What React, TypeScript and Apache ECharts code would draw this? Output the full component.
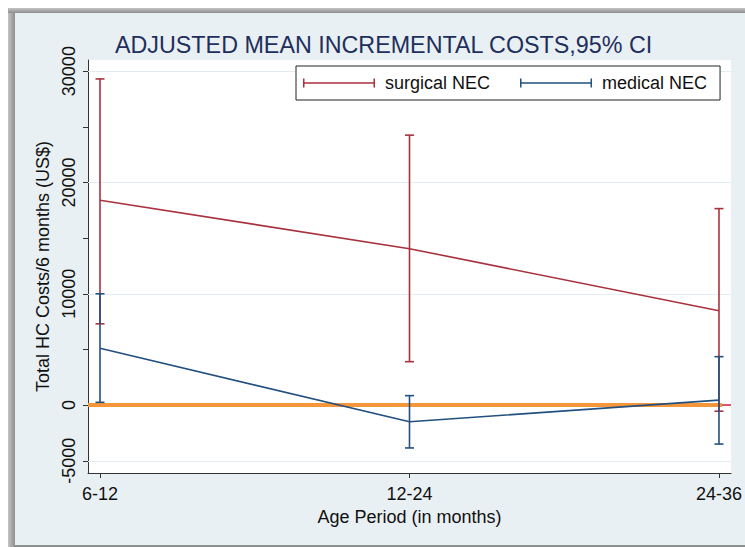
import React, { useEffect, useRef } from "react";
import * as echarts from "echarts";

const categories = ["6-12", "12-24", "24-36"];
const categoryPositions = [0, 1, 2];
const surgicalMean = [18400, 14050, 8470];
const surgicalLow = [7300, 3900, -550];
const surgicalHigh = [29300, 24250, 17650];
const medicalMean = [5100, -1500, 450];
const medicalLow = [250, -3850, -3500];
const medicalHigh = [10000, 850, 4350];
const yTickValues = [-5000, 0, 5000, 10000, 15000, 20000, 25000, 30000];
const yLabelValues = [-5000, 0, 10000, 20000, 30000];
const zeroLineX = [-0.0388, 2.01];

const RED = "#a8323e";
const BLUE = "#23507f";
const FONT = "Liberation Sans, Arial, sans-serif";

const legendIcon =
  "path://M0,0h1.5v3.75h69v-3.75h1.5v9h-1.5v-3.75h-69v3.75h-1.5z";

function ciSeries(name: string, low: number[], high: number[], color: string) {
  return {
    name,
    type: "custom",
    z: 5,
    data: categoryPositions.map((x, i) => [x, low[i], high[i]]),
    encode: { x: 0, y: [1, 2] },
    renderItem: (params: any, api: any) => {
      const x = api.value(0);
      const pLo = api.coord([x, api.value(1)]);
      const pHi = api.coord([x, api.value(2)]);
      const cap = 4.5;
      const style = { stroke: color, lineWidth: 1.6 };
      return {
        type: "group",
        children: [
          { type: "line", shape: { x1: pLo[0], y1: pLo[1], x2: pHi[0], y2: pHi[1] }, style },
          { type: "line", shape: { x1: pLo[0] - cap, y1: pLo[1], x2: pLo[0] + cap, y2: pLo[1] }, style },
          { type: "line", shape: { x1: pHi[0] - cap, y1: pHi[1], x2: pHi[0] + cap, y2: pHi[1] }, style },
        ],
      };
    },
  };
}

export default function App() {
  const ref = useRef<HTMLDivElement>(null);
  useEffect(() => {
    document.body.style.margin = "0";
    const chart = echarts.init(ref.current!, undefined, { renderer: "svg" });
    chart.setOption({
      animation: false,
      backgroundColor: "transparent",
      textStyle: { fontFamily: FONT },
      title: {
        text: "ADJUSTED MEAN INCREMENTAL COSTS,95% CI",
        left: 110,
        top: 28,
        textStyle: { fontFamily: FONT, fontSize: 23.3, fontWeight: "normal", color: "#1f2f5c" },
      },
      legend: {
        left: 296,
        top: 66,
        orient: "horizontal",
        padding: [8, 13, 8, 7],
        itemGap: 30,
        itemWidth: 72,
        itemHeight: 9,
        borderColor: "#222",
        borderWidth: 1,
        backgroundColor: "#fff",
        textStyle: { fontFamily: FONT, fontSize: 18, color: "#111", padding: [0, 0, 0, 5] },
        itemStyle: { borderWidth: 0 },
        data: [
          { name: "surgical NEC", icon: legendIcon, itemStyle: { color: RED } },
          { name: "medical NEC", icon: legendIcon, itemStyle: { color: BLUE } },
        ],
      },
      grid: {
        left: 88,
        right: 14,
        top: 60,
        bottom: 74,
        show: true,
        backgroundColor: "#ffffff",
        borderWidth: 0,
      },
      xAxis: {
        type: "value",
        min: -0.0388,
        max: 2.0388,
        name: "Age Period (in months)",
        nameLocation: "middle",
        nameGap: 28,
        nameTextStyle: { fontFamily: FONT, fontSize: 18, color: "#111" },
        axisLine: { show: true, onZero: false, lineStyle: { color: "#333", width: 1 } },
        axisTick: { show: true, length: 5, customValues: categoryPositions, lineStyle: { color: "#333" } },
        axisLabel: {
          customValues: categoryPositions,
          formatter: (v: number) => categories[Math.round(v)] ?? "",
          fontFamily: FONT,
          fontSize: 18,
          color: "#111",
          margin: 12,
        },
        splitLine: { show: false },
      },
      yAxis: {
        type: "value",
        min: -6100,
        max: 31000,
        name: "Total HC Costs/6 months (US$)",
        nameLocation: "middle",
        nameGap: 33,
        nameRotate: 90,
        nameTextStyle: { fontFamily: FONT, fontSize: 18, color: "#111" },
        axisLine: { show: true, onZero: false, lineStyle: { color: "#333", width: 1 } },
        axisTick: { show: true, length: 5, customValues: yTickValues, lineStyle: { color: "#333" } },
        axisLabel: {
          customValues: yLabelValues,
          formatter: (v: number) => String(v),
          rotate: 90,
          fontFamily: FONT,
          fontSize: 18,
          color: "#111",
          margin: 10,
        },
        splitLine: { show: false },
      },
      series: [
        {
          name: "grid",
          type: "line",
          z: 1,
          data: [],
          markLine: {
            silent: true,
            z: 1,
            symbol: "none",
            label: { show: false },
            lineStyle: { color: "#e3edf1", width: 1, type: "solid" },
            data: [
              ...yLabelValues.map((v) => ({ yAxis: v })),
              { yAxis: 0, lineStyle: { color: "#d0203a", width: 1.5, type: "solid" } },
            ],
          },
        },
        {
          name: "zero",
          type: "line",
          z: 3,
          showSymbol: false,
          symbol: "none",
          lineStyle: { color: "#f5963a", width: 4 },
          data: zeroLineX.map((x) => [x, 0]),
        },
        ciSeries("surgical NEC", surgicalLow, surgicalHigh, RED),
        {
          name: "surgical NEC",
          type: "line",
          z: 4,
          symbol: "none",
          color: RED,
          lineStyle: { color: RED, width: 1.6 },
          data: categoryPositions.map((x, i) => [x, surgicalMean[i]]),
        },
        ciSeries("medical NEC", medicalLow, medicalHigh, BLUE),
        {
          name: "medical NEC",
          type: "line",
          z: 4,
          symbol: "none",
          color: BLUE,
          lineStyle: { color: BLUE, width: 1.6 },
          data: categoryPositions.map((x, i) => [x, medicalMean[i]]),
        },
      ],
    });
    return () => chart.dispose();
  }, []);

  return (
    <div style={{ position: "relative", width: 745, height: 547, background: "#fff", overflow: "hidden" }}>
      <div
        style={{
          position: "absolute",
          left: 8,
          top: 8,
          width: 737,
          height: 539,
          background: "linear-gradient(90deg, #c4c4c4 0px, #8e8e8e 7px)",
        }}
      />
      <div
        style={{
          position: "absolute",
          left: 8,
          top: 8,
          width: 737,
          height: 5,
          background: "linear-gradient(180deg, #c4c4c4 0px, #8e8e8e 5px)",
        }}
      />
      <div
        style={{
          position: "absolute",
          left: 15,
          top: 13,
          width: 730,
          height: 532,
          background: "#e9f0f3",
        }}
      />
      <div ref={ref} style={{ position: "absolute", left: 0, top: 0, width: 745, height: 547 }} />
    </div>
  );
}
